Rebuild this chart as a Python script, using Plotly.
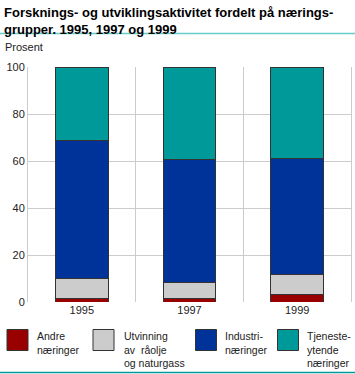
import plotly.graph_objects as go

years = ["1995", "1997", "1999"]
series_names = ["Andre<br>næringer", "Utvinning<br>av  råolje<br>og naturgass",
                "Industri-<br>næringer", "Tjeneste-<br>ytende<br>næringer"]
andre = [1.7, 1.4, 3.0]
utvinning = [8.4, 7.0, 8.5]
industri = [58.7, 52.3, 49.6]
tjeneste = [31.2, 39.3, 38.9]
colors = ["#990000", "#cccccc", "#003399", "#009999"]
y_ticks = [0, 20, 40, 60, 80, 100]
title_text = "<b>Forsknings- og utviklingsaktivitet fordelt på nærings-<br>grupper. 1995, 1997 og 1999</b>"

W, H = 355, 374
L, R, T, B = 28, 4, 67, 72
PW, PH = W - L - R, H - T - B

def px_x(p):
    return (p - L) / PW

def px_y(p):
    return (H - B - p) / PH

FONT = "Liberation Sans"

fig = go.Figure()
for name, vals, col in zip(series_names, [andre, utvinning, industri, tjeneste], colors):
    fig.add_trace(go.Bar(x=years, y=vals, name=name, marker_color=col,
                         marker_line=dict(color="#333333", width=1), width=0.49,
                         showlegend=False))

fig.update_layout(
    width=W, height=H, barmode="stack",
    margin=dict(l=L, r=R, t=T, b=B),
    paper_bgcolor="white", plot_bgcolor="white",
    font=dict(family=FONT, size=11, color="#222222"),
    xaxis=dict(type="category", tickson="boundaries", showgrid=True, gridcolor="#cccccc",
               gridwidth=1, ticks="", showline=False, zeroline=False,
               tickfont=dict(size=11)),
    yaxis=dict(range=[0, 100], tickvals=y_ticks, showgrid=True, gridcolor="#cccccc",
               ticks="", zeroline=False, showline=True, mirror=True, linecolor="#cccccc",
               tickfont=dict(size=11)),
)

shapes = [
    dict(type="line", xref="paper", yref="paper", x0=px_x(0), x1=px_x(W),
         y0=px_y(33.5), y1=px_y(33.5), line=dict(color="#66cccc", width=1.5)),
    dict(type="line", xref="paper", yref="paper", x0=px_x(0), x1=px_x(W),
         y0=px_y(372.5), y1=px_y(372.5), line=dict(color="#009999", width=1.5)),
]
annotations = [
    dict(text=title_text, xref="paper", yref="paper", x=px_x(2), y=px_y(2.5),
         xanchor="left", yanchor="top", align="left", showarrow=False,
         font=dict(size=13, color="#000000")),
    dict(text="Prosent", xref="paper", yref="paper", x=px_x(3), y=px_y(47),
         xanchor="left", yanchor="middle", showarrow=False, font=dict(size=11)),
]
sq_left = [7, 93, 195.5, 277.5]
txt_left = [35, 121.5, 222.5, 305]
for name, col, sx, tx in zip(series_names, colors, sq_left, txt_left):
    shapes.append(dict(type="rect", xref="paper", yref="paper",
                       x0=px_x(sx), x1=px_x(sx + 21), y0=px_y(329.5), y1=px_y(350.5),
                       fillcolor=col, line=dict(color="#333333", width=1)))
    annotations.append(dict(text=name, xref="paper", yref="paper", x=px_x(tx), y=px_y(327.5),
                            xanchor="left", yanchor="top", align="left", showarrow=False,
                            font=dict(size=10.5)))
fig.update_layout(shapes=shapes, annotations=annotations)

fig.write_html("out.html", config={"displayModeBar": False},
               post_script="document.body.style.margin='0';")
